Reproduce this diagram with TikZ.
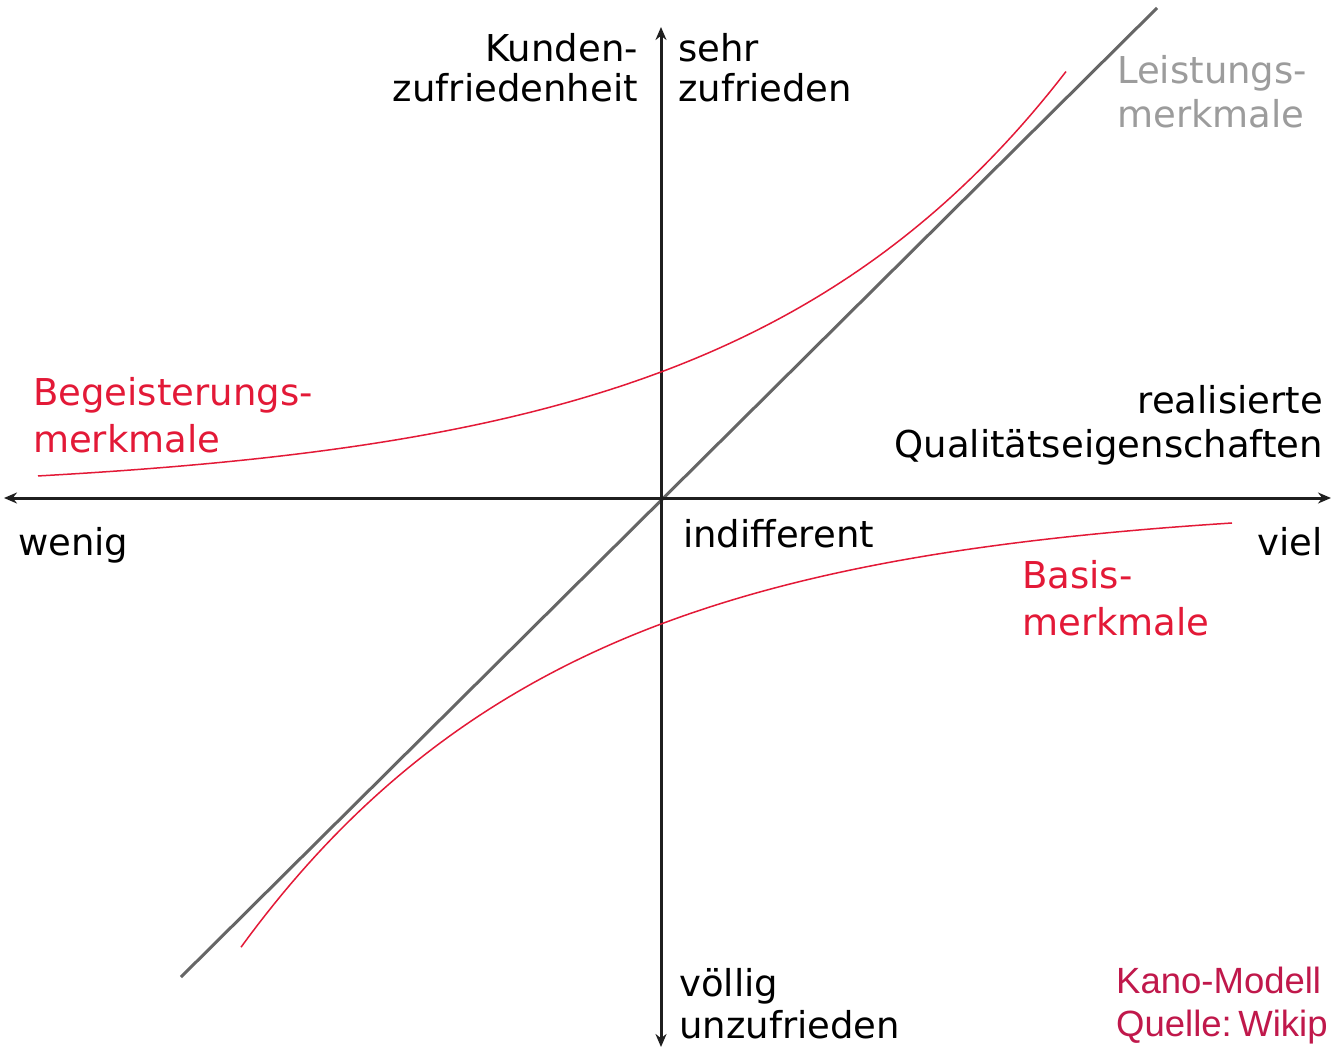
\documentclass[tikz,border=0pt]{standalone}
\usepackage{fontspec}
\setmainfont{DejaVu Sans}
\newfontfamily\kanofont{Liberation Sans}
\usetikzlibrary{arrows.meta}
\definecolor{kred}{HTML}{E31937}
\definecolor{kgrey}{HTML}{9C9C9C}
\definecolor{kline}{HTML}{666666}
\definecolor{kano}{HTML}{C0184B}
\tikzset{
  axis/.style={line width=3pt, draw=black!88, {Stealth[length=13pt,width=11pt]}-{Stealth[length=13pt,width=11pt]}},
  diag/.style={line width=3pt, draw=kline},
  curve/.style={line width=1.5pt, draw=kred},
  lbl/.style={inner sep=0pt, font=\fontsize{37}{40}\selectfont},
}
\begin{document}
\begin{tikzpicture}[x=1pt,y=-1pt]
\useasboundingbox (0,0) rectangle (1333,1051);
\fill[white] (0,0) rectangle (1333,1051);
% axes
\coordinate (top) at (661,27);
\coordinate (bot) at (661,1047);
\coordinate (lft) at (4,498);
\coordinate (rgt) at (1331,498);
\coordinate (dA) at (181,977);
\coordinate (dB) at (1157,8);
\draw[diag] (dA) -- (dB);
\draw[axis] (bot) -- (top);
\draw[axis] (lft) -- (rgt);
% curves
\draw[curve] plot[domain=-623:405, samples=120] ({661+\x},{498-4-122*exp(0.00306*\x)});
\draw[curve] plot[domain=-420:571, samples=120] ({661+\x},{498+4+122*exp(-0.00308*\x)});
% labels
\node[lbl, anchor=base east, align=right, font=\fontsize{37}{40}\selectfont] (kz) at (638,102) {Kunden-\\zufriedenheit};
\node[lbl, anchor=base west, align=left, font=\fontsize{37}{40}\selectfont] (sz) at (678,102) {sehr\\zufrieden};
\node[lbl, anchor=base west, align=left, text=kgrey, font=\fontsize{37}{44}\selectfont] (lm) at (1117,128) {Leistungs-\\merkmale};
\node[lbl, anchor=base west, align=left, text=kred, font=\fontsize{37}{47}\selectfont] (bm) at (33,452) {Begeisterungs-\\merkmale};
\node[lbl, anchor=base east, align=right, font=\fontsize{37}{44}\selectfont] (rq) at (1323,457) {realisierte\hspace{15pt}\\Qualitätseigenschaften};
\node[lbl, anchor=base west] (we) at (18,555) {wenig};
\node[lbl, anchor=base east] (vi) at (1323,555) {viel};
\node[lbl, anchor=base west] (in) at (683,547) {indifferent};
\node[lbl, anchor=base west, align=left, text=kred, font=\fontsize{37}{47}\selectfont] (ba) at (1022,635) {Basis-\\merkmale};
\node[lbl, anchor=base west, align=left, font=\fontsize{37}{42}\selectfont] (vu) at (679,1038) {völlig\\unzufrieden};
\node[lbl, anchor=base west, align=left, text=kano, font=\kanofont\fontsize{36.5}{43}\selectfont] (km) at (1116,1036) {Kano-Modell\\Quelle:\hspace{0.18em}Wikip};
\end{tikzpicture}
\end{document}
